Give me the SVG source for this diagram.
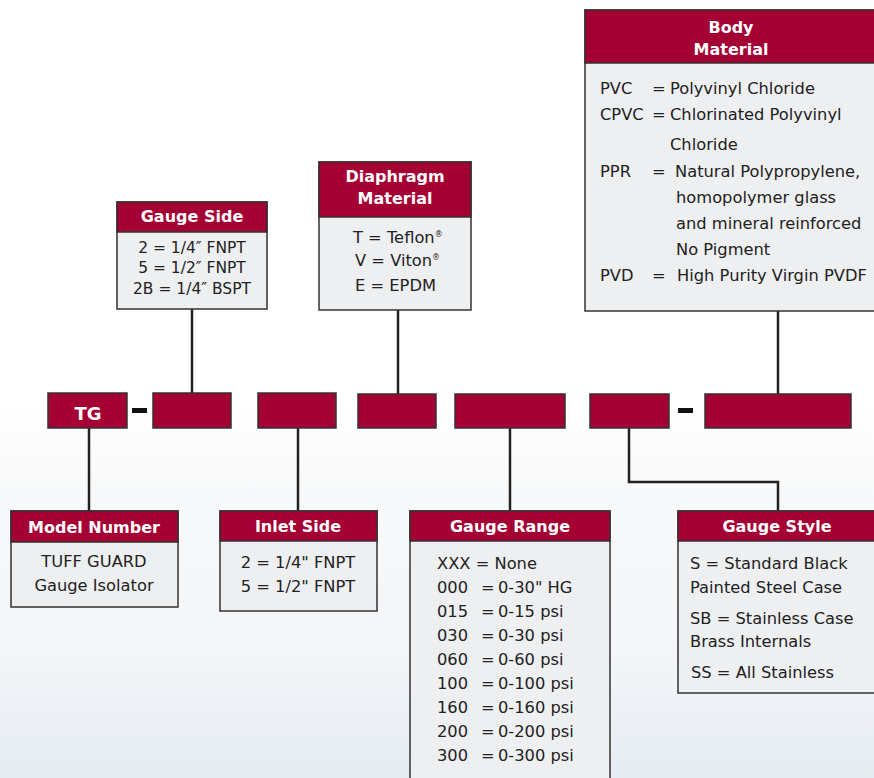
<svg xmlns="http://www.w3.org/2000/svg" width="874" height="778" viewBox="0 0 874 778">
<defs>
<linearGradient id="bg" x1="0" y1="0" x2="0" y2="1">
<stop offset="0" stop-color="#ffffff"/>
<stop offset="0.52" stop-color="#ffffff"/>
<stop offset="0.62" stop-color="#f8f9fa"/>
<stop offset="0.85" stop-color="#f3f5f8"/>
<stop offset="1" stop-color="#e4ebf2"/>
</linearGradient>
<style>
.hd{fill:#a50034;stroke:#333;stroke-width:1.5}
.bd{fill:#eeeff1;stroke:#333;stroke-width:1.5}
.seg{fill:#a50034;stroke:#333;stroke-width:1.5}
.ttl{font-family:"DejaVu Sans",Verdana,sans-serif;font-weight:bold;font-size:16px;fill:#fff;text-anchor:middle}
.tx{font-family:"DejaVu Sans",Verdana,sans-serif;font-size:16.3px;fill:#222}
.c{text-anchor:middle}
.sm{font-size:15.5px}
.sup{font-size:8px}
.ln{fill:none;stroke:#222;stroke-width:2.5}
.dash{fill:#111}
</style>
</defs>
<rect x="0" y="0" width="874" height="778" fill="url(#bg)"/>

<g id="connectors">
<line class="ln" x1="192" y1="309" x2="192" y2="394"/>
<line class="ln" x1="89" y1="428" x2="89" y2="512"/>
<line class="ln" x1="298" y1="428" x2="298" y2="512"/>
<line class="ln" x1="398" y1="310" x2="398" y2="394"/>
<line class="ln" x1="510" y1="428" x2="510" y2="512"/>
<polyline class="ln" points="629,428 629,482 778,482 778,512"/>
<line class="ln" x1="778" y1="311" x2="778" y2="394"/>
</g>

<g id="code-row">
<rect class="seg" x="48" y="393" width="79" height="35"/>
<text x="88" y="420" font-family="DejaVu Sans,Verdana,sans-serif" font-weight="bold" font-size="18" fill="#fff" text-anchor="middle">TG</text>
<rect class="dash" x="132" y="408" width="15" height="5"/>
<rect class="seg" x="153" y="393" width="78" height="35"/>
<rect class="seg" x="258" y="393" width="78" height="35"/>
<rect class="seg" x="358" y="394" width="78" height="34"/>
<rect class="seg" x="455" y="394" width="110" height="34"/>
<rect class="seg" x="590" y="394" width="79" height="34"/>
<rect class="dash" x="678" y="408" width="15" height="5"/>
<rect class="seg" x="705" y="394" width="146" height="34"/>
</g>

<g id="body-material">
<rect class="bd" x="585" y="10" width="295" height="301"/>
<rect class="hd" x="585" y="10" width="295" height="53"/>
<text class="ttl" x="731" y="33">Body</text>
<text class="ttl" x="731" y="55">Material</text>
<text class="tx" x="600" y="94">PVC</text><text class="tx" x="652" y="94">=</text><text class="tx" x="670" y="94">Polyvinyl Chloride</text>
<text class="tx" x="600" y="120">CPVC</text><text class="tx" x="652" y="120">=</text><text class="tx" x="670" y="120">Chlorinated Polyvinyl</text>
<text class="tx" x="670" y="150">Chloride</text>
<text class="tx" x="600" y="177">PPR</text><text class="tx" x="652" y="177">=</text><text class="tx" x="675" y="177">Natural Polypropylene,</text>
<text class="tx" x="676" y="203">homopolymer glass</text>
<text class="tx" x="676" y="229">and mineral reinforced</text>
<text class="tx" x="676" y="255">No Pigment</text>
<text class="tx" x="600" y="281">PVD</text><text class="tx" x="652" y="281">=</text><text class="tx" x="677" y="281">High Purity Virgin PVDF</text>
</g>

<g id="gauge-side">
<rect class="bd" x="117" y="202" width="150" height="107"/>
<rect class="hd" x="117" y="202" width="150" height="30"/>
<text class="ttl" x="192" y="222">Gauge Side</text>
<text class="tx sm c" x="192" y="253">2 = 1/4″ FNPT</text>
<text class="tx sm c" x="192" y="273">5 = 1/2″ FNPT</text>
<text class="tx sm c" x="192" y="294">2B = 1/4″ BSPT</text>
</g>

<g id="diaphragm-material">
<rect class="bd" x="319" y="162" width="152" height="148"/>
<rect class="hd" x="319" y="162" width="152" height="55"/>
<text class="ttl" x="395" y="182">Diaphragm</text>
<text class="ttl" x="395" y="204">Material</text>
<text class="tx" x="353" y="243">T = Teflon<tspan class="sup" dy="-6">®</tspan></text>
<text class="tx" x="355" y="266">V = Viton<tspan class="sup" dy="-6">®</tspan></text>
<text class="tx" x="355" y="291">E = EPDM</text>
</g>

<g id="model-number">
<rect class="bd" x="11" y="511" width="167" height="96"/>
<rect class="hd" x="11" y="511" width="167" height="31"/>
<text class="ttl" x="94" y="533">Model Number</text>
<text class="tx c" x="94" y="567">TUFF GUARD</text>
<text class="tx c" x="94" y="591">Gauge Isolator</text>
</g>

<g id="inlet-side">
<rect class="bd" x="220" y="511" width="157" height="100"/>
<rect class="hd" x="220" y="511" width="157" height="30"/>
<text class="ttl" x="298" y="532">Inlet Side</text>
<text class="tx c" x="298" y="568">2 = 1/4" FNPT</text>
<text class="tx c" x="298" y="592">5 = 1/2" FNPT</text>
</g>

<g id="gauge-range">
<rect class="bd" x="410" y="511" width="200" height="280"/>
<rect class="hd" x="410" y="511" width="200" height="30"/>
<text class="ttl" x="510" y="532">Gauge Range</text>
<text class="tx" x="437" y="569">XXX = None</text>
<text class="tx" x="437" y="593">000</text><text class="tx" x="481" y="593">=</text><text class="tx" x="498" y="593">0-30" HG</text>
<text class="tx" x="437" y="617">015</text><text class="tx" x="481" y="617">=</text><text class="tx" x="498" y="617">0-15 psi</text>
<text class="tx" x="437" y="641">030</text><text class="tx" x="481" y="641">=</text><text class="tx" x="498" y="641">0-30 psi</text>
<text class="tx" x="437" y="665">060</text><text class="tx" x="481" y="665">=</text><text class="tx" x="498" y="665">0-60 psi</text>
<text class="tx" x="437" y="689">100</text><text class="tx" x="481" y="689">=</text><text class="tx" x="498" y="689">0-100 psi</text>
<text class="tx" x="437" y="713">160</text><text class="tx" x="481" y="713">=</text><text class="tx" x="498" y="713">0-160 psi</text>
<text class="tx" x="437" y="737">200</text><text class="tx" x="481" y="737">=</text><text class="tx" x="498" y="737">0-200 psi</text>
<text class="tx" x="437" y="761">300</text><text class="tx" x="481" y="761">=</text><text class="tx" x="498" y="761">0-300 psi</text>
</g>

<g id="gauge-style">
<rect class="bd" x="678" y="511" width="202" height="182"/>
<rect class="hd" x="678" y="511" width="202" height="30"/>
<text class="ttl" x="777" y="532">Gauge Style</text>
<text class="tx" x="690" y="569">S = Standard Black</text>
<text class="tx" x="690" y="593">Painted Steel Case</text>
<text class="tx" x="690" y="624">SB = Stainless Case</text>
<text class="tx" x="690" y="647">Brass Internals</text>
<text class="tx" x="691" y="678">SS = All Stainless</text>
</g>
</svg>
